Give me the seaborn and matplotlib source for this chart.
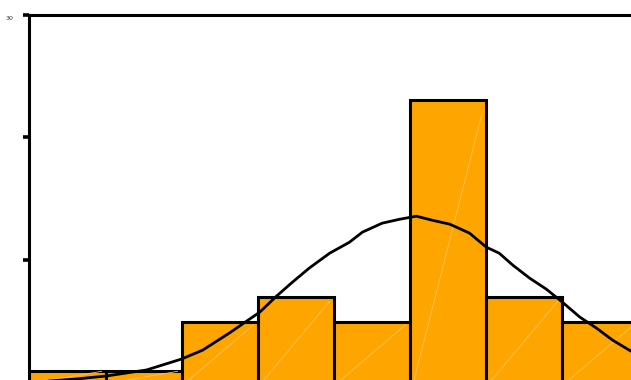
import matplotlib
matplotlib.use("Agg")
import matplotlib.pyplot as plt
import matplotlib.transforms as mtransforms
import seaborn as sns
import numpy as np

# ---- data ----
bin_edges = [0, 1, 2, 3, 4, 5, 6, 7, 8]
bin_counts = [1, 1, 5, 7, 5, 23, 7, 5]
curve_x = [0.0, 0.62, 1.01, 1.54, 2.00, 2.28, 2.63, 3.03, 3.25, 3.46, 3.68, 3.95,
           4.21, 4.38, 4.64, 4.87, 5.09, 5.30, 5.53, 5.79, 6.01, 6.18, 6.36,
           6.58, 6.80, 7.01, 7.24, 7.46, 7.67, 7.89, 8.0]
curve_y = [0.05, 0.33, 0.57, 1.06, 1.95, 2.68, 4.07, 5.77, 7.07, 8.21, 9.35, 10.57,
           11.46, 12.28, 13.01, 13.33, 13.58, 13.25, 12.93, 12.20, 11.06, 10.57, 9.59,
           8.54, 7.64, 6.59, 5.37, 4.47, 3.50, 2.68, 2.3]
y_ticks = [10, 20, 30]
y_tick_labels = ["", "", "30"]

sns.set_style("white")
W, H = 631, 380
fig = plt.figure(figsize=(W / 100, H / 100), dpi=100)

left_px, top_px, zero_px = 29.5, 14.5, 383.0
x_right_px = 29.5 + 8 * 76
ax = fig.add_axes([left_px / W, (H - zero_px) / H,
                   (x_right_px - left_px) / W, (zero_px - top_px) / H])

centers = [(a + b) / 2 for a, b in zip(bin_edges[:-1], bin_edges[1:])]
sns.histplot(x=centers, weights=bin_counts, bins=bin_edges, ax=ax,
             color="#FFA500", alpha=1.0, edgecolor="black", linewidth=2.2,
             zorder=2)

# faint light diagonal streak inside each bar (as in the reference rendering)
for p in list(ax.patches):
    x0, y0 = p.get_x(), p.get_y()
    w, h = p.get_width(), p.get_height()
    ax.plot([x0 + 0.05 * w, x0 + 0.95 * w], [y0, y0 + 0.95 * h],
            color="#FFC45C", linewidth=0.6, zorder=2.5)

sns.lineplot(x=curve_x, y=curve_y, ax=ax, color="black", linewidth=2.0,
             zorder=3)

ax.set_xlim(0, 8)
ax.set_ylim(0, 30)
ax.set_xlabel("")
ax.set_ylabel("")
ax.set_xticks([])
ax.set_yticks(y_ticks)
ax.set_yticklabels(y_tick_labels, fontsize=4.5, color="#333333")
ax.tick_params(axis="y", direction="out", length=4.5, width=2.6, color="black",
               pad=7, left=True)
offset = mtransforms.ScaledTranslation(0, -4 / 100, fig.dpi_scale_trans)
for lbl in ax.get_yticklabels():
    lbl.set_transform(lbl.get_transform() + offset)

for side in ["left", "top"]:
    ax.spines[side].set_visible(True)
    ax.spines[side].set_color("black")
    ax.spines[side].set_linewidth(2.2)
ax.spines["right"].set_visible(False)
ax.spines["bottom"].set_visible(False)
ax.grid(False)

fig.savefig("out.png", dpi=100)
